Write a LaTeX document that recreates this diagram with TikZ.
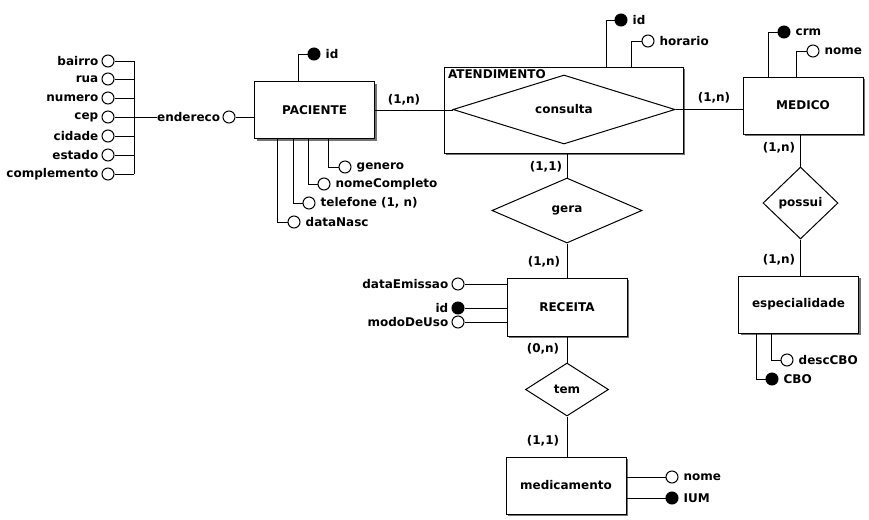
\documentclass[tikz,border=0pt]{standalone}
\usepackage{fontspec}
\setmainfont{DejaVu Sans}
\usetikzlibrary{shapes.geometric,shadows}
\begin{document}
\begin{tikzpicture}[x=0.75pt,y=-0.75pt,line width=0.75pt,
  font=\fontsize{9}{10.8}\selectfont\bfseries,
  ent/.style={draw,fill=white,rectangle,minimum width=90pt,minimum height=42.75pt,inner sep=0pt,
     drop shadow={shadow xshift=1.5pt,shadow yshift=-1.5pt,fill=black!55,opacity=1}},
  rel/.style={draw,fill=white,diamond,inner sep=0pt},
  att/.style={draw,fill=white,circle,minimum size=9pt,inner sep=0pt},
  key/.style={att,fill=black},
  ar/.style={att,label={[label distance=3.5pt,inner sep=0pt]right:#1}},
  al/.style={att,label={[label distance=2pt,inner sep=0pt]left:#1}},
  kr/.style={key,label={[label distance=3.5pt,inner sep=0pt]right:#1}},
  kl/.style={key,label={[label distance=2pt,inner sep=0pt]left:#1}},
  card/.style={inner sep=0pt}]
\useasboundingbox (0,0) rectangle (869,519);

% entities and relationships
\node[ent] (pac) at (314.5,110) {PACIENTE};
\node[ent,minimum width=179.25pt,minimum height=64.5pt] (aten) at (563.5,110) {};
\node[anchor=north west,inner sep=0pt] (atenlbl) at ([xshift=3pt,yshift=-2pt]aten.north west) {ATENDIMENTO};
\node[rel,minimum width=166.5pt,minimum height=51.75pt] (cons) at (564,109.5) {consulta};
\node[ent] (med) at (803,105.5) {MEDICO};
\node[rel,minimum width=112.5pt,minimum height=48.75pt] (gera) at (567,210.5) {gera};
\node[ent,minimum height=43.5pt] (rec) at (567,307) {RECEITA};
\node[rel,minimum width=62.25pt,minimum height=39.75pt] (tem) at (567,389.5) {tem};
\node[ent] (medic) at (566,485.5) {medicamento};
\node[rel,minimum width=56.25pt,minimum height=54pt] (pos) at (800.5,203) {possui};
\node[ent] (esp) at (798.5,304.5) {especialidade};

% relationship lines
\draw (pac.east) -- (pac.east -| cons.west);
\draw (cons.east) -- (cons.east -| med.west);
\draw (gera.north) -- (gera.north |- aten.south);
\draw (gera.south) -- (gera.south |- rec.north);
\draw (tem.north) -- (tem.north |- rec.south);
\draw (tem.south) -- (tem.south |- medic.north);
\draw (pos.north) -- (pos.north |- med.south);
\draw (pos.south) -- (pos.south |- esp.north);

% cardinalities
\node[card] (c1) at (404,100) {(1,n)};
\node[card] (c2) at (714,98) {(1,n)};
\node[card] (c3) at (546,167) {(1,1)};
\node[card] (c4) at (544,262) {(1,n)};
\node[card] (c5) at (543,349) {(0,n)};
\node[card] (c6) at (543,441) {(1,1)};
\node[card] (c7) at (779,148) {(1,n)};
\node[card] (c8) at (779,260) {(1,n)};

% PACIENTE attributes
\node[kr=id] (pacid) at (314,54) {};
\draw (pacid.west) -| (298,0 |- pac.north);
\node[ar=genero] (gen) at (345,167) {};
\draw (gen.west) -| (328,0 |- pac.south);
\node[ar=nomeCompleto] (nc) at (324,184) {};
\draw (nc.west) -| (308,0 |- pac.south);
\node[ar={telefone (1, n)}] (tel) at (309,203) {};
\draw (tel.west) -| (293,0 |- pac.south);
\node[ar=dataNasc] (dn) at (294,222) {};
\draw (dn.west) -| (277,0 |- pac.south);

% endereco (composite)
\node[att] (end) at (229,117) {};
\node[anchor=east,inner sep=0pt] (endlbl) at ([xshift=-1.5pt]end.west) {endereco};
\draw (end.east) -- (end.east -| pac.west);
\coordinate (bar) at (134,117);
\node[al=bairro] (bai) at (108,61) {};
\node[al=rua] (rua) at (108,79) {};
\node[al=numero] (num) at (108,98) {};
\node[al=cep] (cep) at (108,117) {};
\node[al=cidade] (cid) at (108,136) {};
\node[al=estado] (est) at (108,155) {};
\node[al=complemento] (comp) at (108,174) {};
\foreach \n in {bai,rua,num,cep,cid,est,comp} \draw (\n.east) -- (\n.east -| bar);
\draw (bai.east -| bar) -- (comp.east -| bar);
\draw (bar) -- (endlbl.west);

% ATENDIMENTO attributes
\node[kr=id] (atid) at (621,20) {};
\draw (atid.west) -| (606,0 |- aten.north);
\node[ar=horario] (hor) at (648,41) {};
\draw (hor.west) -| (631,0 |- aten.north);

% MEDICO attributes
\node[kr=crm] (crm) at (784,32) {};
\draw (crm.west) -| (768,0 |- med.north);
\node[ar=nome] (mnome) at (813,51) {};
\draw (mnome.west) -| (796,0 |- med.north);

% RECEITA attributes
\node[al=dataEmissao] (dem) at (458,284) {};
\draw (dem.east) -- (dem.east -| rec.west);
\node[kl=id] (recid) at (458,308) {};
\draw (recid.east) -- (recid.east -| rec.west);
\node[al=modoDeUso] (mdu) at (458,322) {};
\draw (mdu.east) -- (mdu.east -| rec.west);

% medicamento attributes
\node[ar=nome] (mdn) at (672,477) {};
\draw (mdn.west) -- (mdn.west -| medic.east);
\node[kr=IUM] (ium) at (672,498) {};
\draw (ium.west) -- (ium.west -| medic.east);

% especialidade attributes
\node[ar=descCBO] (dcbo) at (787,360) {};
\draw (dcbo.west) -| (771,0 |- esp.south);
\node[kr=CBO] (cbo) at (772,379) {};
\draw (cbo.west) -| (756,0 |- esp.south);
\end{tikzpicture}
\end{document}
